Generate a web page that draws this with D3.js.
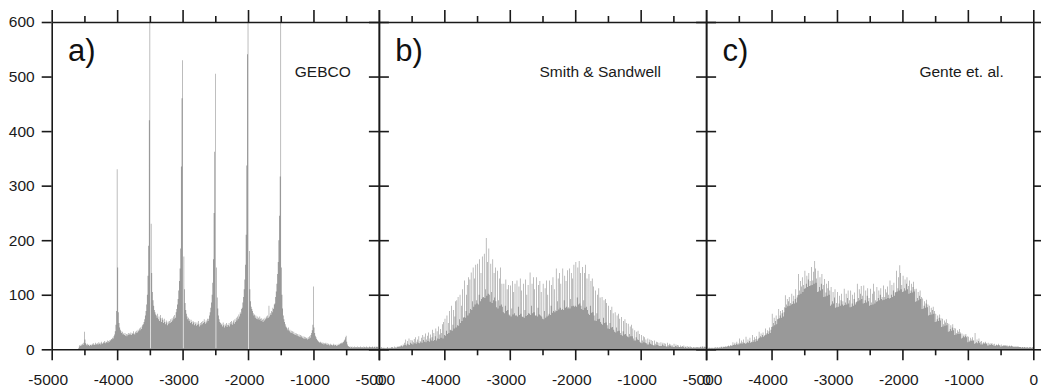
<!DOCTYPE html>
<html>
<head>
<meta charset="utf-8">
<script src="https://cdn.jsdelivr.net/npm/d3@7"></script>
<style>
  body { margin: 0; background: #fff; }
  svg { display: block; font-family: 'Liberation Sans', Arial, sans-serif; }
  .domain { stroke: #1a1a1a; stroke-width: 1.6; }
  .tick line { stroke: #1a1a1a; stroke-width: 1.6; }
  .tick text { font-size: 15.5px; fill: #1a1a1a; }
</style>
</head>
<body>
<div id="chart"></div>
<script>
// histogram bins are 10 m wide, centred on -5000, -4990, ... -10
const binWidth = 10;
const depthTicks = [-5000, -4000, -3000, -2000, -1000, 0];
const depthMinorTicks = [-4500, -3500, -2500, -1500, -500];
const countTicks = [0, 100, 200, 300, 400, 500, 600];
const panelLetters = ['a)', 'b)', 'c)'];
const panelNames = ['GEBCO', 'Smith & Sandwell', 'Gente et. al.'];

const gebcoCounts = [
  0,0,0,0,0,0,0,0,0,0, 0,0,0,0,0,0,0,0,0,0, 0,0,0,0,0,0,0,0,0,0, 0,0,0,0,0,0,0,0,0,0, 0,2,5,8,6,9,7,10,8,12,
  32,18,11,9,7,10,8,9,6,8, 9,7,10,8,11,9,8,12,10,9, 11,9,13,10,12,9,14,11,10,13, 12,15,11,14,13,16,12,15,14,17, 16,19,18,21,20,24,27,33,45,70,
  330,150,68,48,40,36,33,30,32,27, 29,26,30,25,28,24,27,30,26,29, 27,31,26,30,28,33,29,27,32,30, 34,31,36,33,38,35,40,37,42,45, 46,50,55,62,70,82,100,135,190,420,
  600,2,230,140,105,90,80,72,68,64, 62,58,65,55,60,52,63,57,50,58, 54,48,56,50,46,53,49,44,51,47, 52,48,55,50,57,53,60,56,63,58, 68,74,82,92,108,125,148,185,335,460,
  530,2,170,110,85,72,65,60,55,58, 52,55,48,54,50,46,52,49,44,50, 47,43,49,45,52,46,42,48,44,50, 46,52,48,55,50,47,53,49,56,52, 56,62,68,76,86,100,122,165,250,362,
  505,2,150,95,75,62,55,50,48,45, 47,42,49,44,40,46,43,48,41,45, 44,48,42,50,46,52,45,49,53,47, 55,50,58,53,60,56,64,60,68,65, 74,76,86,96,110,128,155,210,337,541,
  600,0,180,110,88,78,74,70,66,62, 64,58,62,56,60,55,58,54,60,56, 52,57,54,50,56,53,58,55,60,57, 62,58,80,60,66,63,70,68,76,74, 82,84,96,106,120,138,160,200,245,317,
  600,150,100,75,62,55,50,46,42,40, 38,35,40,33,36,31,34,30,33,28, 32,27,30,26,29,25,28,24,27,23, 26,22,25,21,24,20,23,19,22,20, 21,18,22,19,24,21,26,30,35,45,
  115,40,30,25,22,19,17,15,14,13, 12,14,11,13,10,12,9,11,10,12, 9,11,8,10,9,7,10,8,9,7, 8,10,7,9,8,6,9,7,8,10, 9,11,10,12,11,13,14,16,18,22,
  25,14,9,6,5,4,5,3,4,5, 3,4,3,5,4,3,4,5,3,4, 4,3,5,4,3,4,3,5,4,3, 4,5,3,4,3,4,5,4,3,4, 5,4,3,4,5,3,4,5,4,3
];

const sandwellCounts = [
  3,2,3,2,4,2,3,3,2,3, 2,3,2,4,3,2,3,2,3,4, 3,4,3,2,5,3,4,3,5,4, 5,4,6,5,8,6,5,9,7,12, 8,18,7,10,15,9,20,8,12,17,
  10,16,9,13,19,11,22,10,14,18, 12,24,11,15,13,21,12,26,17,23, 14,29,13,18,25,15,31,14,20,27, 16,22,36,15,30,17,24,38,16,33, 20,42,19,27,37,21,30,46,20,50,
  26,56,25,34,62,28,48,30,70,36, 35,80,34,45,72,38,60,88,40,90, 44,96,43,55,100,48,80,52,110,58, 59,126,58,70,100,118,62,132,66,128, 74,141,72,88,150,78,130,82,155,90,
  84,157,82,100,165,88,140,92,170,95, 96,175,94,110,204,98,160,102,185,100, 87,157,105,85,165,90,140,95,150,88, 77,144,75,90,130,80,150,82,120,78, 68,120,66,80,128,70,110,72,118,64,
  62,117,60,75,125,64,105,66,120,62, 62,126,60,78,115,63,130,65,108,60, 59,120,58,72,128,61,100,63,118,66, 65,141,63,80,120,66,132,68,110,62, 62,132,60,76,118,64,125,62,105,60,
  56,120,55,70,112,58,126,60,100,62, 65,126,63,80,118,67,132,70,110,68, 71,148,70,88,130,73,140,76,120,72, 74,148,72,90,135,76,125,78,145,75, 77,148,75,92,140,79,130,80,155,78,
  80,160,78,95,150,82,162,84,140,80, 74,151,72,90,140,76,155,78,130,72, 65,138,63,80,125,67,130,68,115,62, 53,108,52,66,100,55,112,56,95,50, 47,96,45,58,90,48,92,49,85,44,
  38,80,37,48,72,40,78,41,66,36, 32,68,31,40,62,33,65,34,56,30, 26,59,25,33,52,27,55,28,48,25, 23,47,22,28,42,24,45,24,38,20, 16,35,16,22,32,18,34,17,28,14,
  12,26,11,16,24,13,22,12,18,11, 9,20,9,13,18,10,17,9,15,8, 7,16,7,10,14,8,13,7,12,6, 6,13,6,9,12,7,11,6,10,5, 5,12,5,8,10,6,9,5,8,5,
  4,10,4,6,9,5,8,4,7,4, 4,7,4,5,6,4,7,3,5,4, 3,6,3,4,5,3,5,3,4,3, 3,4,3,4,3,4,3,4,3,4, 3,4,5,3,4,6,3,4,5,4
];

const genteCounts = [
  2,3,2,3,2,3,3,2,3,2, 3,2,3,3,4,2,3,4,3,3, 3,4,3,5,4,3,5,4,4,5, 5,4,6,5,7,6,5,8,6,7, 7,13,8,9,12,8,10,14,9,11,
  9,20,10,12,16,10,13,18,11,12, 10,23,11,13,18,12,15,21,12,14, 13,26,14,17,22,14,19,24,15,18, 20,32,21,24,29,22,26,31,23,25, 26,38,27,30,35,28,33,40,30,36,
  41,65,42,48,58,44,52,62,46,55, 56,74,57,62,70,58,66,72,60,68, 77,99,76,82,92,79,88,96,80,85, 82,102,83,88,98,84,92,110,86,95, 99,138,100,108,125,102,115,132,105,118,
  111,144,112,120,135,114,128,140,116,125, 117,151,118,126,142,120,162,148,122,130, 105,144,106,114,132,108,120,138,110,118, 96,129,97,104,120,98,112,125,100,108, 80,114,82,88,105,84,95,110,76,85,
  77,105,78,84,98,80,90,102,82,88, 80,111,81,86,102,82,94,108,84,90, 77,108,78,84,100,80,92,104,82,86, 87,120,88,94,110,90,102,116,92,98, 84,117,85,90,108,86,98,112,88,94,
  80,111,81,86,102,82,120,106,84,90, 87,114,88,94,108,90,100,112,92,96, 90,117,91,96,110,92,104,115,94,100, 93,126,94,100,118,96,108,122,98,104, 105,144,106,112,132,108,154,140,110,118,
  105,135,106,112,128,108,120,132,110,116, 102,126,103,108,120,104,114,124,106,110, 87,111,88,94,105,90,98,108,92,96, 74,93,75,80,88,76,84,91,77,82, 62,80,63,68,76,64,72,78,65,70,
  50,65,51,55,62,52,58,64,53,57, 41,56,42,46,53,43,49,55,44,48, 32,47,33,37,44,34,40,46,35,39, 26,38,27,30,35,28,32,37,28,31, 20,29,21,24,27,22,25,28,22,24,
  13,23,14,16,21,15,18,22,15,17, 10,30,11,13,18,11,15,20,12,14, 9,15,9,11,13,10,12,14,10,11, 7,12,7,9,11,8,10,11,8,9, 6,10,6,8,9,7,8,10,7,8,
  5,9,5,6,8,6,7,8,6,7, 5,7,5,6,7,5,6,7,5,6, 4,5,4,5,5,4,5,5,4,4, 4,4,3,4,4,3,4,4,3,4, 3,4,3,3,4,3,4,3,3,4
];

const panelCounts = [gebcoCounts, sandwellCounts, genteCounts];

const width = 1041;
const height = 387;
const margin = { top: 22, left: 51.7, bottom: 37.7 };
const panelWidth = 327.2;
const plotBottom = height - margin.bottom;
// where the dataset names sit, in data units (right end of the text)
const nameAnchor = [-430, -690, -450];

const svg = d3.select('#chart')
  .append('svg')
  .attr('width', width)
  .attr('height', height);

const x = d3.scaleLinear().domain([-5000, 0]).range([0, panelWidth]);
const y = d3.scaleLinear().domain([0, 600]).range([plotBottom, margin.top]).clamp(true);

// one stepped outline per histogram, so neighbouring bins do not leave seams
const histArea = d3.area()
  .curve(d3.curveStepAfter)
  .x(d => x(d.edge))
  .y0(plotBottom)
  .y1(d => y(d.count));

const tickLabel = d => String(d);

panelCounts.forEach((counts, k) => {
  const g = svg.append('g')
    .attr('transform', `translate(${margin.left + k * panelWidth},0)`);

  g.append('clipPath')
    .attr('id', `clip${k}`)
    .append('rect')
    .attr('x', 0)
    .attr('y', margin.top)
    .attr('width', panelWidth)
    .attr('height', plotBottom - margin.top);

  const steps = counts.map((c, i) => ({ edge: -5000 + i * binWidth - binWidth / 2, count: c }));
  steps.push({ edge: -5000 + counts.length * binWidth - binWidth / 2, count: 0 });

  g.append('path')
    .datum(steps)
    .attr('clip-path', `url(#clip${k})`)
    .attr('d', histArea)
    .attr('fill', '#999');

  // frame + ticks
  g.append('g')
    .attr('transform', `translate(0,${plotBottom})`)
    .call(d3.axisBottom(x).tickValues(depthTicks).tickFormat(tickLabel)
      .tickSize(11).tickSizeOuter(0).tickPadding(13.5))
    .selectAll('text')
    .attr('dx', d => (d < 0 ? -4 : 0));

  g.append('g')
    .attr('transform', `translate(0,${plotBottom})`)
    .call(d3.axisBottom(x).tickValues(depthMinorTicks).tickSize(6).tickFormat(''))
    .select('.domain').remove();

  g.append('g')
    .attr('transform', `translate(0,${margin.top})`)
    .call(d3.axisTop(x).tickValues(depthTicks).tickSize(12).tickSizeOuter(0).tickFormat(''));

  g.append('g')
    .attr('transform', `translate(0,${margin.top})`)
    .call(d3.axisTop(x).tickValues(depthMinorTicks).tickSize(6).tickFormat(''))
    .select('.domain').remove();

  const left = d3.axisLeft(y).tickValues(countTicks).tickFormat(tickLabel)
    .tickSize(10).tickSizeOuter(0).tickPadding(7);
  if (k > 0) left.tickFormat('');
  g.append('g').call(left);

  g.append('g')
    .attr('transform', `translate(${panelWidth},0)`)
    .call(d3.axisRight(y).tickValues(countTicks).tickSize(10).tickSizeOuter(0).tickFormat(''));

  g.append('text')
    .attr('x', x(-4750))
    .attr('y', y(528))
    .attr('font-size', 31)
    .attr('fill', '#111')
    .text(panelLetters[k]);

  g.append('text')
    .attr('x', x(nameAnchor[k]))
    .attr('y', y(500))
    .attr('text-anchor', 'end')
    .attr('font-size', 15.5)
    .attr('fill', '#1a1a1a')
    .text(panelNames[k]);
});
</script>
</body>
</html>
